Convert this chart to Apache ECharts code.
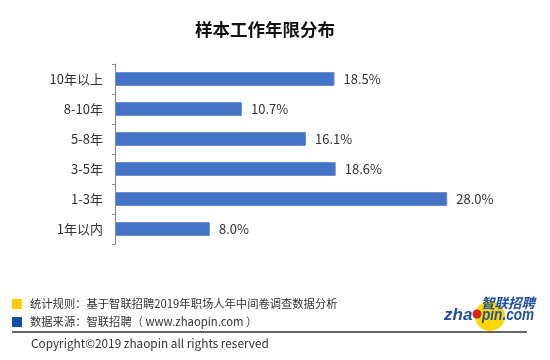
<!DOCTYPE html>
<html><head><meta charset="utf-8">
<script src="https://cdn.jsdelivr.net/npm/echarts@6/dist/echarts.min.js"></script>
<style>html,body{margin:0;padding:0;background:#fff}#c{width:550px;height:360px}</style>
</head><body><div id="c"></div>
<script>
var categories = ['1年以内', '1-3年', '3-5年', '5-8年', '8-10年', '10年以上'];
var values = [8.0, 28.0, 18.6, 16.1, 10.7, 18.5];
var titleText = '样本工作年限分布';
var note1 = '统计规则：基于智联招聘2019年职场人年中间卷调查数据分析';
var note2 = '数据来源：智联招聘（ www.zhaopin.com ）';
var copyright = 'Copyright©2019 zhaopin all rights reserved';
var FONT = '"Noto Sans CJK SC", "Noto Sans", sans-serif';

var chart = echarts.init(document.getElementById('c'), null, {renderer: 'canvas'});
chart.setOption({
  animation: false,
  backgroundColor: '#fff',
  textStyle: {fontFamily: FONT},
  title: {
    text: titleText, left: 190, top: 16,
    textStyle: {fontSize: 17.5, fontWeight: 'bold', color: '#111', fontFamily: FONT}
  },
  grid: {left: 115, top: 64, width: 356, height: 180},
  xAxis: {
    type: 'value', min: 0, max: 30, show: false
  },
  yAxis: {
    type: 'category', data: categories,
    axisLine: {show: true, lineStyle: {color: '#888', width: 1}},
    axisTick: {show: true, length: 3, lineStyle: {color: '#888'}},
    axisLabel: {fontSize: 13, color: '#333', margin: 12, fontFamily: FONT},
    splitLine: {show: false}
  },
  series: [{
    type: 'bar', data: values, barWidth: 14,
    itemStyle: {color: '#4472C4', borderColor: '#6b90d6', borderWidth: 1},
    label: {
      show: true, position: 'right', distance: 9,
      fontSize: 13, color: '#333', fontFamily: FONT,
      formatter: function (p) { return p.value.toFixed(1) + '%'; }
    }
  }],
  graphic: [
    {type: 'rect', shape: {x: 12, y: 299, width: 10, height: 10}, style: {fill: '#FFCC00'}},
    {type: 'text', x: 30, y: 304, style: {text: note1, fontSize: 11.3, fill: '#333', verticalAlign: 'middle', fontFamily: FONT}},
    {type: 'rect', shape: {x: 12, y: 317, width: 10, height: 10}, style: {fill: '#0D4FA8'}},
    {type: 'text', x: 30, y: 322, style: {text: note2, fontSize: 11.3, fill: '#333', verticalAlign: 'middle', fontFamily: FONT}},
    {type: 'line', shape: {x1: 12, y1: 332, x2: 527, y2: 332}, style: {stroke: '#666', lineWidth: 2}},
    {type: 'text', x: 31, y: 344, style: {text: copyright, fontSize: 11.8, fill: '#333', verticalAlign: 'middle', fontFamily: FONT}},
    {type: 'circle', shape: {cx: 490, cy: 316, r: 15}, style: {fill: '#FFD700'}},
    {type: 'text', x: 444, y: 315, style: {text: 'zha', fontSize: 17, fontWeight: 'bold', fontStyle: 'italic', fill: '#1E4FA3', verticalAlign: 'middle', fontFamily: 'Liberation Sans'}},
    {type: 'circle', shape: {cx: 477, cy: 314, r: 4.5}, style: {fill: '#D9261C'}},
    {type: 'text', x: 482, y: 315, scaleX: 0.8, originX: 0, originY: 0, style: {text: 'pin.com', fontSize: 17, fontWeight: 'bold', fontStyle: 'italic', fill: '#1E4FA3', verticalAlign: 'middle', fontFamily: 'Liberation Sans'}},
    {type: 'text', x: 481, y: 303, style: {text: '智联招聘', fontSize: 13.5, fontWeight: 'bold', fontStyle: 'italic', fill: '#1E4FA3', verticalAlign: 'middle', fontFamily: FONT}}
  ]
});
</script></body></html>
